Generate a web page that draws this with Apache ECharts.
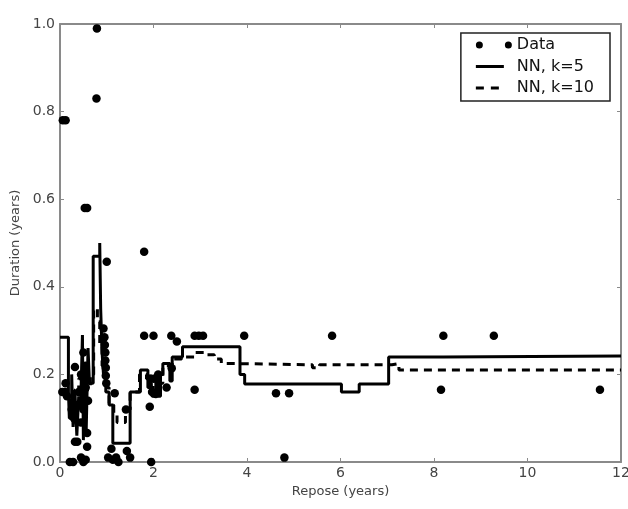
<!DOCTYPE html>
<html>
<head>
<meta charset="utf-8">
<script src="https://cdn.jsdelivr.net/npm/echarts@6/dist/echarts.min.js"></script>
<style>
  html, body { margin: 0; padding: 0; background: #fff; }
  #chart { width: 628px; height: 509px; }
</style>
</head>
<body>
<div id="chart"></div>
<script>
// 观测数据点 [repose, duration]
var dataPoints = [
  [0.06, 0.78], [0.12, 0.78], [0.79, 0.99], [0.78, 0.83], [0.53, 0.58], [0.58, 0.58],
  [1.0, 0.457], [1.8, 0.48],
  [1.8, 0.288], [2.0, 0.288], [2.38, 0.288], [2.5, 0.275], [2.88, 0.288], [2.97, 0.288],
  [3.06, 0.288], [3.94, 0.288], [5.82, 0.288], [8.2, 0.288], [9.28, 0.288],
  [2.88, 0.165], [4.62, 0.157], [4.9, 0.157], [8.15, 0.165], [11.55, 0.165], [4.8, 0.01],
  [1.92, 0.126], [2.28, 0.17], [2.0, 0.19], [2.05, 0.155], [2.1, 0.2], [2.39, 0.214], [1.97, 0.16],
  [0.93, 0.305], [0.95, 0.285], [0.96, 0.267], [0.97, 0.25], [0.97, 0.232], [0.98, 0.215],
  [0.98, 0.197], [0.99, 0.18], [1.17, 0.157], [1.41, 0.12], [1.1, 0.03],
  [0.21, 0.0], [0.28, 0.0], [0.45, 0.01], [0.5, 0.0], [0.55, 0.005], [1.03, 0.01], [1.13, 0.005],
  [1.2, 0.01], [1.25, 0.0], [1.43, 0.025], [1.5, 0.01], [1.95, 0.0],
  [0.32, 0.217], [0.32, 0.046], [0.37, 0.046], [0.58, 0.066], [0.58, 0.035],
  [0.05, 0.16], [0.1, 0.16], [0.12, 0.18], [0.25, 0.12], [0.3, 0.1], [0.4, 0.16],
  [0.45, 0.2], [0.5, 0.25], [0.55, 0.17], [0.6, 0.14], [0.45, 0.09], [0.38, 0.13],
  [0.5, 0.12], [0.55, 0.22], [0.15, 0.15]
];

// NN, k=5 阶梯线
var nnK5 = [
  [0, 0.285], [0.18, 0.16], [0.2, 0.1], [0.25, 0.2], [0.28, 0.08], [0.32, 0.16],
  [0.36, 0.06], [0.4, 0.15], [0.44, 0.12], [0.48, 0.29], [0.5, 0.05], [0.53, 0.22],
  [0.56, 0.07], [0.6, 0.26], [0.63, 0.18], [0.71, 0.47], [0.85, 0.5], [0.87, 0.35],
  [0.9, 0.25], [0.93, 0.2], [0.98, 0.16], [1.05, 0.13], [1.13, 0.043], [1.5, 0.16],
  [1.72, 0.21], [1.88, 0.17], [1.93, 0.2], [1.97, 0.15], [2.05, 0.19], [2.1, 0.15],
  [2.15, 0.2], [2.2, 0.225], [2.35, 0.185], [2.4, 0.24], [2.62, 0.263], [3.85, 0.2],
  [3.95, 0.178], [6.02, 0.16], [6.4, 0.178], [7.03, 0.24], [8.2, 0.242], [12, 0.242]
];

// NN, k=10 阶梯线
var nnK10 = [
  [0, 0.165], [0.3, 0.15], [0.4, 0.19], [0.55, 0.165], [0.65, 0.2], [0.72, 0.35],
  [0.8, 0.32], [0.85, 0.27], [0.9, 0.22], [0.95, 0.19], [1.0, 0.17], [1.05, 0.13],
  [1.15, 0.11], [1.22, 0.09], [1.4, 0.12], [1.5, 0.16], [1.7, 0.2], [1.85, 0.19],
  [1.95, 0.17], [2.1, 0.18], [2.2, 0.22], [2.4, 0.235], [2.6, 0.24], [2.9, 0.25],
  [3.15, 0.245], [3.3, 0.235], [3.45, 0.225], [3.6, 0.222], [5.4, 0.215], [5.55, 0.222],
  [7.1, 0.225], [7.25, 0.21], [12, 0.21]
];

var xTicks = { min: 0, max: 12, interval: 2 };
var yTicks = { min: 0, max: 1, interval: 0.2 };

var axisGray = '#8a8a8a';
var textColor = '#444';
var fontName = 'DejaVu Sans';

// 图例图标（左对齐，末尾加一个极小点撑开宽度）
var iconData = 'path://M0,3.5a3.5,3.5 0 1,0 7,0a3.5,3.5 0 1,0 -7,0M29,3.5a3.5,3.5 0 1,0 7,0a3.5,3.5 0 1,0 -7,0';
var iconSolid = 'path://M0,0h28v3h-28zM35.9,1.4h0.1v0.1h-0.1z';
var iconDash = 'path://M0,0h8v3h-8zM15,0h8v3h-8zM35.9,1.4h0.1v0.1h-0.1z';

var chart = echarts.init(document.getElementById('chart'));

function frameAxis(pos, ticks, showLabels, fmt) {
  return {
    type: 'value',
    position: pos,
    min: ticks.min,
    max: ticks.max,
    interval: ticks.interval,
    axisLine: { show: true, onZero: false, lineStyle: { color: axisGray, width: 2 } },
    axisTick: { show: true, inside: true, length: 4, lineStyle: { color: axisGray, width: 1 } },
    splitLine: { show: false },
    axisLabel: {
      show: showLabels,
      color: textColor,
      fontFamily: fontName,
      fontSize: 14,
      margin: pos === 'left' ? 5 : 4,
      formatter: fmt
    }
  };
}

var xBottom = frameAxis('bottom', xTicks, true, function (v) { return String(v); });
xBottom.name = 'Repose (years)';
xBottom.nameLocation = 'middle';
xBottom.nameGap = 22;
xBottom.nameTextStyle = { color: textColor, fontFamily: fontName, fontSize: 13 };

var yLeft = frameAxis('left', yTicks, true, function (v) { return v.toFixed(1); });
yLeft.name = 'Duration (years)';
yLeft.nameLocation = 'middle';
yLeft.nameGap = 34;
yLeft.nameTextStyle = { color: textColor, fontFamily: fontName, fontSize: 13 };

var option = {
  animation: false,
  backgroundColor: '#fff',
  grid: { left: 60, right: 7, top: 24, bottom: 47, outerBoundsMode: 'none' },
  xAxis: [xBottom, frameAxis('top', xTicks, false)],
  yAxis: [yLeft, frameAxis('right', yTicks, false)],
  legend: {
    orient: 'vertical',
    right: 18,
    top: 33,
    padding: [4, 16, 5, 15],
    itemGap: 5.5,
    itemWidth: 36,
    itemHeight: 8,
    borderColor: '#222',
    borderWidth: 1.5,
    backgroundColor: '#fff',
    textStyle: { color: '#111', fontFamily: fontName, fontSize: 16 },
    itemStyle: { color: '#000' },
    data: [
      { name: 'Data', icon: iconData },
      { name: 'NN, k=5', icon: iconSolid },
      { name: 'NN, k=10', icon: iconDash }
    ]
  },
  series: [
    {
      name: 'NN, k=5',
      type: 'line',
      step: 'end',
      data: nnK5,
      symbol: 'none',
      lineStyle: { color: '#000', width: 3, type: 'solid' },
      itemStyle: { color: '#000' }
    },
    {
      name: 'NN, k=10',
      type: 'line',
      step: 'end',
      data: nnK10,
      symbol: 'none',
      lineStyle: { color: '#000', width: 3, type: [8, 6] },
      itemStyle: { color: '#000' }
    },
    {
      name: 'Data',
      type: 'scatter',
      data: dataPoints,
      symbol: 'circle',
      symbolSize: 8.5,
      itemStyle: { color: '#000', opacity: 1 }
    }
  ]
};

chart.setOption(option);
</script>
</body>
</html>
